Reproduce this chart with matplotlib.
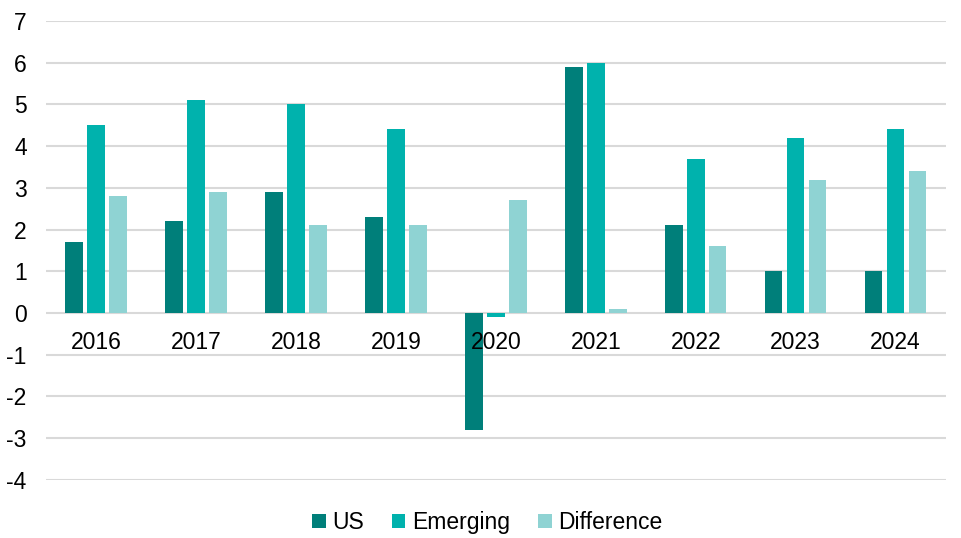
import numpy as np
import matplotlib
matplotlib.use("Agg")
import matplotlib.pyplot as plt

# ── Data ──────────────────────────────────────────────────────────────────────
years = ["2016", "2017", "2018", "2019", "2020", "2021", "2022", "2023", "2024"]
us = [1.7, 2.2, 2.9, 2.3, -2.8, 5.9, 2.1, 1.0, 1.0]
emerging = [4.5, 5.1, 5.0, 4.4, -0.1, 6.0, 3.7, 4.2, 4.4]
difference = [2.8, 2.9, 2.1, 2.1, 2.7, 0.1, 1.6, 3.2, 3.4]

series_names = ["US", "Emerging", "Difference"]
colours = ["#007F7A", "#00B2AD", "#8FD3D3"]

plt.rcParams["font.family"] = ["Liberation Sans", "DejaVu Sans"]
plt.rcParams["axes.unicode_minus"] = False
FS = 16.5

fig = plt.figure(figsize=(9.61, 5.38), dpi=100)
ax = fig.add_axes([0.048, 0.108, 0.936, 0.853])

x = np.arange(len(years))
width = 0.175
step = 0.22
for i, (vals, name, col) in enumerate(zip([us, emerging, difference], series_names, colours)):
    ax.bar(x + (i - 1) * step, vals, width=width, color=col, label=name, zorder=3)

ax.set_xlim(-0.5, len(years) - 0.5)
ax.set_ylim(-4, 7)
ax.set_yticks(range(-4, 8))
ax.yaxis.grid(True, color="#D9D9D9", linewidth=1.5, zorder=0)
ax.set_axisbelow(True)

for s in ax.spines.values():
    s.set_visible(False)

# category labels sit just under the zero line, on top of the bars
ax.set_xticks([])
for xi, yr in zip(x, years):
    ax.annotate(yr, xy=(xi, 0), xytext=(0, -29), textcoords="offset pixels",
                ha="center", va="center", fontsize=FS, zorder=5)

ax.tick_params(axis="y", length=0, pad=14, labelsize=FS)

fig.legend(loc="center", bbox_to_anchor=(0.507, 0.029), ncol=3, frameon=False,
           fontsize=FS, handlelength=0.6, handleheight=0.6, handletextpad=0.3,
           columnspacing=1.2)

fig.savefig("out.png", dpi=100)
